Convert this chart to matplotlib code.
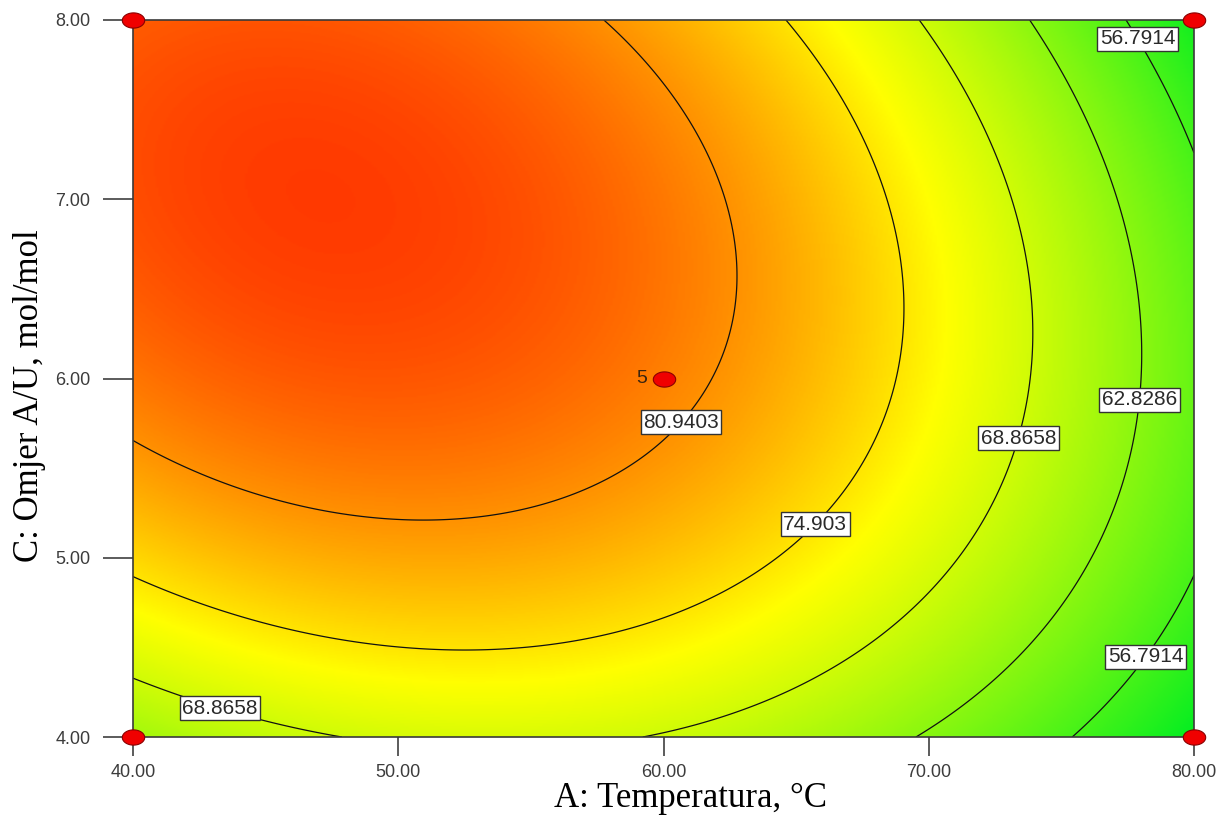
import numpy as np
import matplotlib
matplotlib.use("Agg")
import matplotlib.pyplot as plt
from matplotlib.colors import LinearSegmentedColormap, Normalize
from matplotlib.path import Path

# ---------------- data ----------------
x_ticks = [40, 50, 60, 70, 80]
y_ticks = [4, 5, 6, 7, 8]
x_label = "A: Temperatura, \u00b0C"
y_label = "C: Omjer A/U, mol/mol"

levels = [56.7914, 62.8286, 68.8658, 74.903, 80.9403]
level_text = ["56.7914", "62.8286", "68.8658", "74.903", "80.9403"]

# points: (A, C)
trace_809 = [(57.6, 8.0), (61.0, 7.47), (62.6, 7.0), (62.8, 6.61), (62.6, 6.42),
             (61.4, 5.90), (60.5, 5.71), (58.9, 5.55), (55.7, 5.31), (52.0, 5.22),
             (50.1, 5.22), (47.5, 5.26), (45.0, 5.34), (42.5, 5.45), (40.0, 5.67)]
trace_749 = [(64.7, 8.0), (67.0, 7.55), (68.5, 7.0), (69.0, 6.57), (69.2, 6.42),
             (68.9, 6.14), (68.3, 5.82), (67.0, 5.45), (65.5, 5.12), (62.6, 4.86),
             (60.1, 4.67), (56.4, 4.54), (52.0, 4.49), (47.5, 4.54), (45.0, 4.64),
             (42.5, 4.76), (40.0, 4.90)]
trace_689 = [(40.0, 4.33), (41.5, 4.23), (43.8, 4.14), (47.5, 4.0), (69.7, 8.0),
             (71.4, 7.55), (72.9, 7.0), (73.8, 6.55), (74.0, 6.42), (73.9, 6.05),
             (73.4, 5.67), (72.7, 5.42), (71.4, 5.04), (69.6, 4.73), (67.0, 4.41),
             (65.1, 4.28), (62.6, 4.17), (59.5, 4.0)]
trace_628 = [(73.9, 8.0), (75.2, 7.55), (76.5, 7.0), (77.85, 6.55), (78.0, 6.42),
             (78.1, 6.05), (78.0, 5.82), (77.6, 5.49), (76.5, 5.06), (75.2, 4.73),
             (72.7, 4.36), (69.6, 4.0)]
trace_568 = [(78.2, 7.85), (80.0, 7.33), (80.0, 4.88), (78.3, 4.54), (77.7, 4.39),
             (75.4, 4.0)]
traces = [trace_568, trace_628, trace_689, trace_749, trace_809]

# contour label anchors (A, C)
label_pos = [(78.15, 7.92), (77.96, 4.47), (77.96, 5.88), (73.3, 5.67),
             (43.4, 4.22), (65.5, 5.22), (60.4, 5.79)]

# design points
design_A = [40, 40, 80, 80, 60]
design_C = [4, 8, 4, 8, 6]
center_reps = "5"

# ---------------- quadratic response surface from read traces ----------------
def terms(A, C):
    a = (np.asarray(A, float) - 60.0) / 20.0
    c = (np.asarray(C, float) - 6.0) / 2.0
    return np.stack([np.ones_like(a), a, c, a * c, a * a, c * c], axis=-1)

pts_A, pts_C, pts_Y = [], [], []
for lev, tr in zip(levels, traces):
    for A_, C_ in tr:
        pts_A.append(A_); pts_C.append(C_); pts_Y.append(lev)
coef, *_ = np.linalg.lstsq(terms(pts_A, pts_C), np.array(pts_Y), rcond=None)

gA = np.linspace(40, 80, 500)
gC = np.linspace(4, 8, 500)
GA, GC = np.meshgrid(gA, gC)
Z = terms(GA, GC) @ coef

# ---------------- colours ----------------
v_green, v_yellow, v_red = 50.5, 73.0, 91.5
cmap = LinearSegmentedColormap.from_list(
    "dx", [(0.0, "#00ee22"), ((v_yellow - v_green) / (v_red - v_green), "#ffff00"),
           (1.0, "#ff0000")])
norm = Normalize(v_green, v_red)

# ---------------- figure ----------------
fig = plt.figure(figsize=(12.27, 8.16), dpi=100)
ax = fig.add_axes([133 / 1227, 1 - 737 / 816, (1194 - 133) / 1227, (737 - 20) / 816])

ax.imshow(Z, origin="lower", extent=[40, 80, 4, 8], aspect="auto",
          cmap=cmap, norm=norm, interpolation="bilinear", zorder=0)
cs = ax.contour(GA, GC, Z, levels=levels, colors="#111111", linewidths=0.9, zorder=2)

fmt = {lv: tx for lv, tx in zip(cs.levels, level_text)}
labels = ax.clabel(cs, levels=cs.levels, inline=False, fmt=fmt, manual=label_pos,
                   fontsize=15, colors="#2a2a2a")
for t in labels:
    t.set_rotation(0)
    t.set_fontfamily("Liberation Sans")
    t.set_ha("center")
    t.set_va("center")
    t.set_zorder(5)
    t.set_bbox(dict(boxstyle="square,pad=0.12", fc="white", ec="#333333", lw=1.0))

# design points (ellipses)
th = np.linspace(0, 2 * np.pi, 60)
ell = Path(np.column_stack([np.cos(th), 0.68 * np.sin(th)]), closed=True)
ax.scatter(design_A, design_C, marker=ell, s=260, c="#f00000", edgecolors="#8a0000",
           linewidths=0.8, zorder=6, clip_on=False)
ax.annotate(center_reps, (design_A[-1], design_C[-1]), xytext=(-12, 0),
            textcoords="offset points", ha="right", va="center", fontsize=14,
            color="#3a2410", family="Liberation Sans", zorder=6)

ax.set_xlim(40, 80)
ax.set_ylim(4, 8)
ax.set_xticks(x_ticks)
ax.set_yticks(y_ticks)
ax.set_xticklabels([f"{v:.2f}" for v in x_ticks])
ax.set_yticklabels([f"{v:.2f}" for v in y_ticks])
ax.tick_params(axis="x", length=13.7, width=1.2, color="#404040", pad=6.0,
               labelsize=13, labelcolor="#3c3c3c")
ax.tick_params(axis="y", length=21.6, width=1.2, color="#404040", pad=9.0,
               labelsize=13, labelcolor="#3c3c3c")
for lab in ax.get_xticklabels() + ax.get_yticklabels():
    lab.set_fontfamily("Liberation Sans")
for sp in ax.spines.values():
    sp.set_color("#3a3a3a")
    sp.set_linewidth(1.2)

fig.text(690 / 1227, 1 - 807 / 816, x_label, ha="center", va="baseline",
         fontsize=25, family="Liberation Serif", color="black")
fig.text(30 / 1227, 1 - 396 / 816, y_label, ha="center", va="center", rotation=90,
         fontsize=25, family="Liberation Serif", color="black")

fig.savefig("out.png", dpi=100)
